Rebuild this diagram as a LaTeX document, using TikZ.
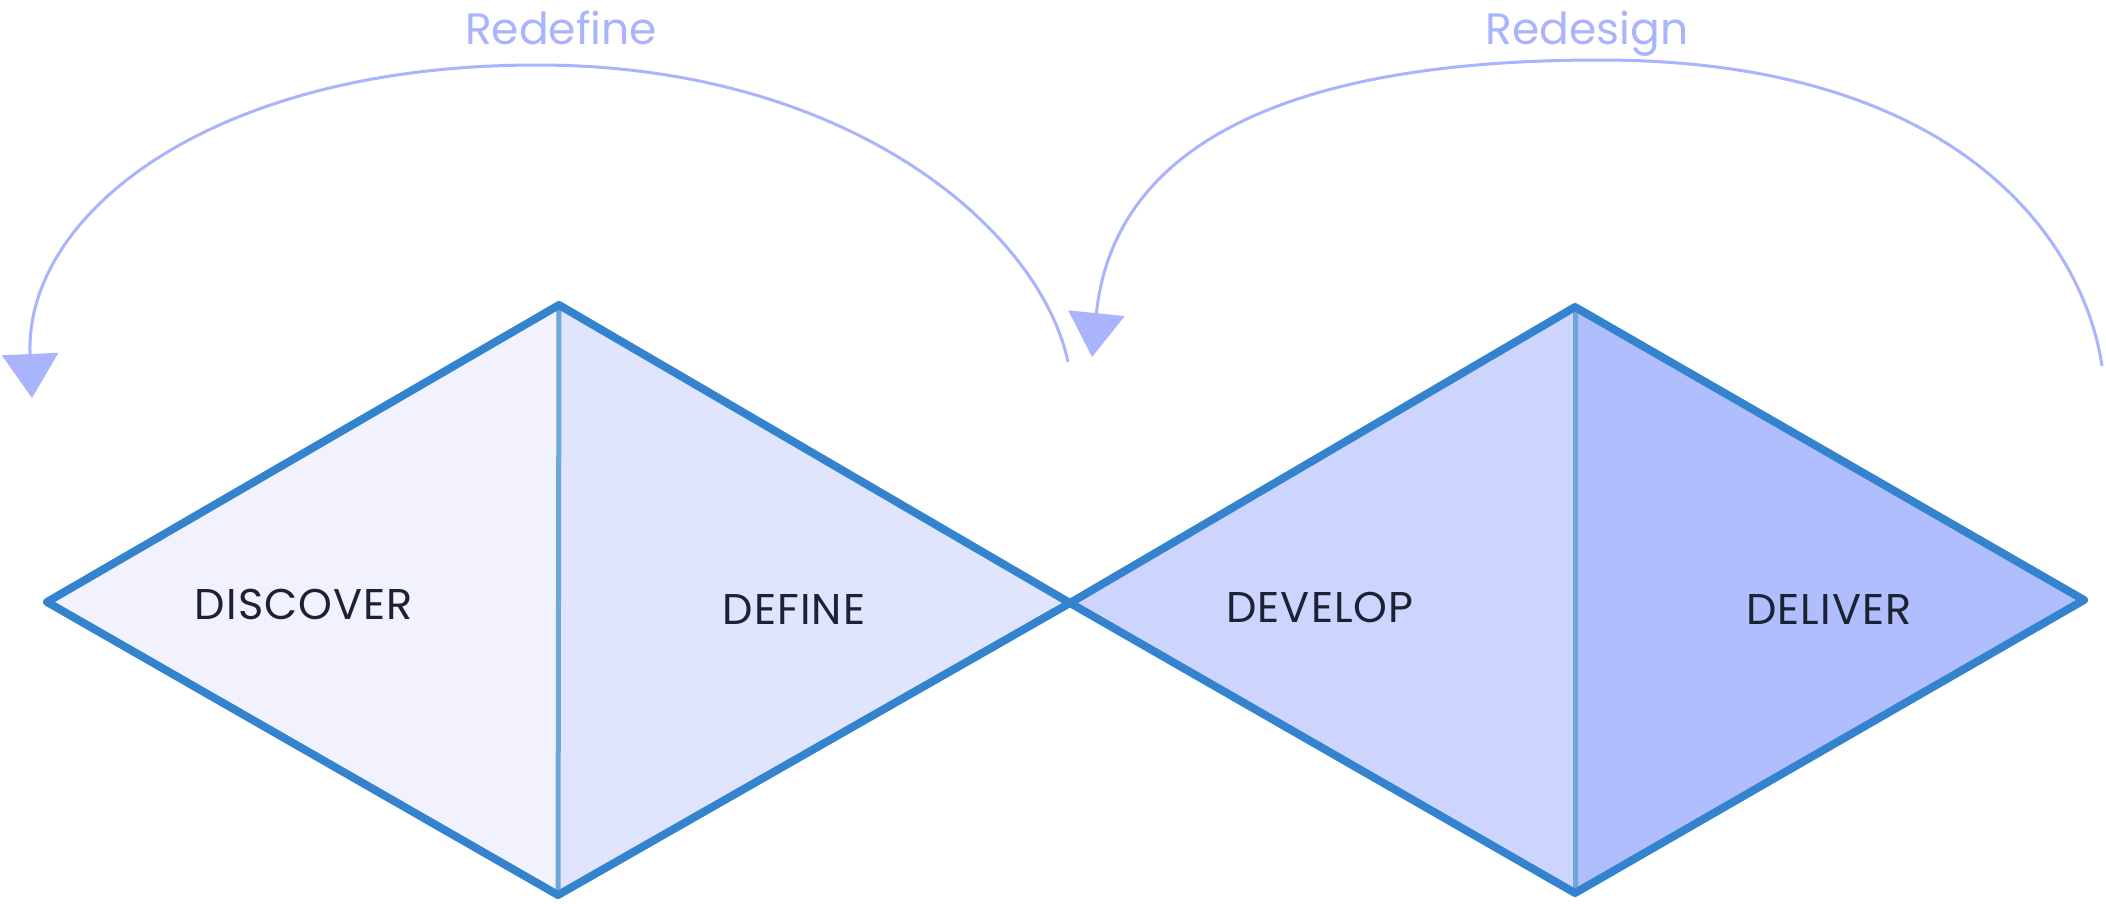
\documentclass[tikz,border=0pt]{standalone}
\usepackage{fontspec}
\usetikzlibrary{arrows.meta}
\newfontfamily\stagefont{Poppins}[LetterSpace=2.5]
\newfontfamily\notefont{Poppins}
\definecolor{edgeblue}{HTML}{3483CF}
\definecolor{splitblue}{HTML}{6BA8D8}
\definecolor{fillA}{HTML}{F1F2FE}
\definecolor{fillB}{HTML}{E0E4FD}
\definecolor{fillC}{HTML}{CDD4FE}
\definecolor{fillD}{HTML}{B1BEFE}
\definecolor{loop}{HTML}{A9B4FC}
\definecolor{ink}{HTML}{1A2233}
\begin{document}
\begin{tikzpicture}[x=1pt,y=-1pt,
  outline/.style={draw=edgeblue,line width=8pt,line join=round,line cap=round},
  split/.style={draw=splitblue,line width=5pt},
  stage/.style={font=\stagefont\fontsize{43}{50}\selectfont,text=ink,inner sep=0pt},
  note/.style={font=\notefont\fontsize{44}{50}\selectfont,text=loop,inner sep=0pt,anchor=base},
  loopline/.style={draw=loop,line width=3pt,-{Triangle[length=44pt,width=56pt]}}]
\useasboundingbox (0,0) rectangle (2106,903);
\fill[white] (0,0) rectangle (2106,903);

% diamond corners
\coordinate (L1) at (47,602);
\coordinate (T1) at (559,305);
\coordinate (B1) at (558,895);
\coordinate (M) at (1070,603);
\coordinate (T2) at (1575,307);
\coordinate (B2) at (1575,893);
\coordinate (R2) at (2084,600);

% four phase areas
\fill[fillA] (L1) -- (T1) -- (B1) -- cycle;
\fill[fillB] (T1) -- (M) -- (B1) -- cycle;
\fill[fillC] (M) -- (T2) -- (B2) -- cycle;
\fill[fillD] (T2) -- (R2) -- (B2) -- cycle;

% dividers between phases
\draw[split] (T1) -- (B1);
\draw[split] (T2) -- (B2);

% diamond outlines
\draw[outline] (L1) -- (T1) -- (M) -- (B1) -- cycle;
\draw[outline] (M) -- (T2) -- (R2) -- (B2) -- cycle;

% phase labels
\node[stage] (discover) at (304,604) {DISCOVER};
\node[stage] (define) at (794,609) {DEFINE};
\node[stage] (develop) at (1320,607) {DEVELOP};
\node[stage] (deliver) at (1829,609) {DELIVER};

% feedback loops
\coordinate (s1) at (1068,362);
\coordinate (p1) at (537,65);
\coordinate (e1) at (32,398);
\coordinate (s2) at (2102,366);
\coordinate (p2) at (1600,60);
\coordinate (e2) at (1092,357);

\draw[loopline] (s1) .. controls (1040,230) and (850,65) .. (p1)
  .. controls (210,65) and (24,215) .. (e1);
\draw[loopline] (s2) .. controls (2085,250) and (1970,60) .. (p2)
  .. controls (1260,60) and (1112,160) .. (e2);

\node[note] (redefine) at (561,44) {Redefine};
\node[note] (redesign) at (1587,44) {Redesign};
\end{tikzpicture}
\end{document}
